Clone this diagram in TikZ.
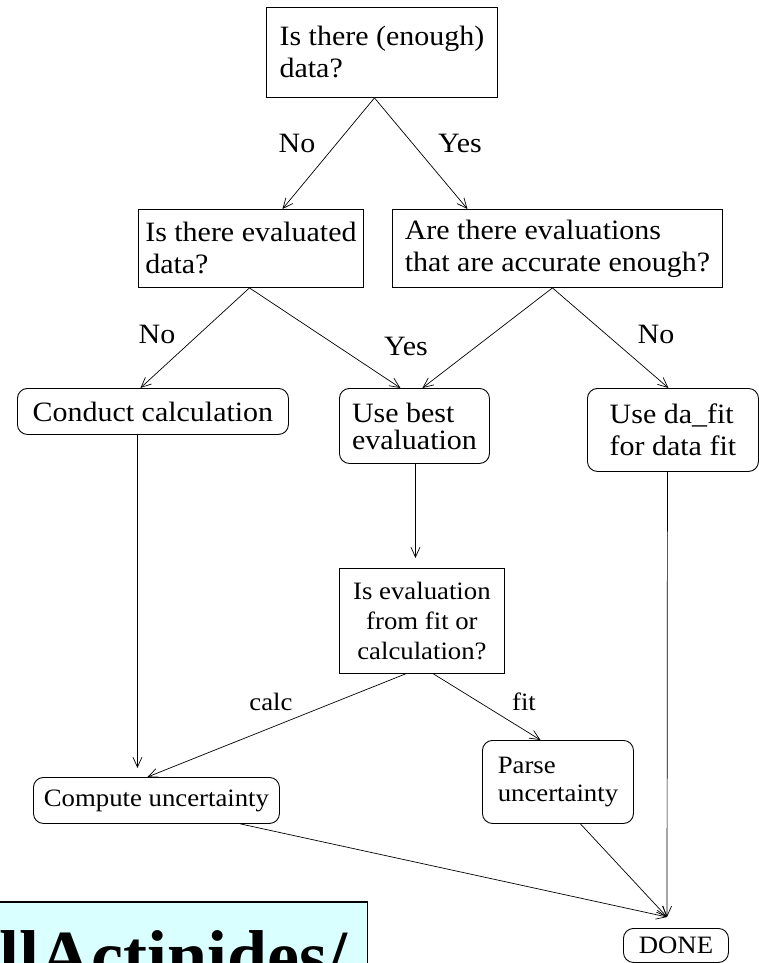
\documentclass[tikz,border=0pt]{standalone}
\usepackage{fontspec}
\setmainfont{Liberation Serif}[FakeStretch=1.07]
\newfontfamily\bannerfont{Liberation Serif}
\usetikzlibrary{arrows.meta}
\definecolor{bannercyan}{RGB}{217,255,255}

\begin{document}
\begin{tikzpicture}[x=1pt, y=-1pt,
    box/.style={rectangle, draw, line width=0.9pt, anchor=north west, align=left, inner sep=0pt, font=\fontsize{28}{32}\selectfont},
    rbox/.style={box, rounded corners=10pt},
    small/.style={font=\fontsize{25}{28}\selectfont},
    lbl/.style={anchor=base, inner sep=0pt, font=\fontsize{28}{32}\selectfont},
    arrow/.style={-{Straight Barb[length=10pt,width=9pt]}, line width=0.7pt}
  ]
  \useasboundingbox (0,0) rectangle (759,963);
  \clip (0,0) rectangle (759,963);

  % questions and actions
  \node[box, minimum width=231pt, minimum height=90pt] (enough) at (266,7) {Is there (enough)\\data?};
  \node[box, minimum width=225pt, minimum height=78pt] (evaluated) at (138,209) {Is there evaluated\\data?};
  \node[box, minimum width=330pt, minimum height=78pt] (accurate) at (392,209) {Are there evaluations\\that are accurate enough?};
  \node[rbox, minimum width=271pt, minimum height=46pt] (conduct) at (17,388) {Conduct calculation};
  \node[rbox, minimum width=150pt, minimum height=75pt, font=\fontsize{28}{27}\selectfont] (usebest) at (339,388) {Use best\\evaluation};
  \node[rbox, minimum width=171pt, minimum height=83pt] (dafit) at (587,388) {Use da\_fit\\for data fit};
  \node[box, align=center, minimum width=165pt, minimum height=105pt, font=\fontsize{25}{30}\selectfont] (fitorcalc) at (339,568) {Is evaluation\\from fit or\\calculation?};
  \node[rbox, small, minimum width=246pt, minimum height=46pt] (compute) at (33,777) {Compute uncertainty};
  \node[rbox, small, minimum width=151pt, minimum height=83pt] (parse) at (482,740) {Parse\\uncertainty};
  \node[rbox, small, minimum width=105pt, minimum height=34pt] (done) at (623,928) {DONE};
  \coordinate (donein) at (667,917);

  % connectors
  \draw[arrow] ([xshift=-7.5pt]enough.south) -- ([xshift=31.5pt]evaluated.north);
  \draw[arrow] ([xshift=-7.5pt]enough.south) -- ([xshift=-90pt]accurate.north);
  \draw[arrow] ([xshift=-1.5pt]evaluated.south) -- ([xshift=-12.5pt]conduct.north);
  \draw[arrow] ([xshift=-1.5pt]evaluated.south) -- ([xshift=-14pt]usebest.north);
  \draw[arrow] ([xshift=-5pt]accurate.south) -- ([xshift=8pt]usebest.north);
  \draw[arrow] ([xshift=-5pt]accurate.south) -- ([xshift=-4.5pt]dafit.north);
  \draw[arrow, shorten >=9pt] ([xshift=-15.5pt]conduct.south) -- ([xshift=-19pt]compute.north);
  \draw[arrow, shorten >=10pt] ([xshift=1pt]usebest.south) -- ([xshift=-6.5pt]fitorcalc.north);
  \draw[arrow] ([xshift=-16.5pt]fitorcalc.south) -- ([xshift=-9pt]compute.north);
  \draw[arrow] ([xshift=11.5pt]fitorcalc.south) -- ([xshift=-17.5pt]parse.north);
  \draw[arrow] ([xshift=-5.5pt]dafit.south) -- (donein);
  \draw[arrow] ([xshift=84pt]compute.south) -- (donein);
  \draw[arrow] ([xshift=22.5pt]parse.south) -- (donein);

  % labels
  \node[lbl] (no1) at (297,153) {No};
  \node[lbl] (yes1) at (460,153) {Yes};
  \node[lbl] (no2) at (157,343) {No};
  \node[lbl] (yes2) at (406,355) {Yes};
  \node[lbl] (no3) at (656,343) {No};
  \node[lbl, small] (calclbl) at (271,710) {calc};
  \node[lbl, small] (fitlbl) at (524,710) {fit};

  % banner
  \node[draw=black, line width=1.5pt, fill=bannercyan, anchor=north east, minimum width=380pt, minimum height=100pt] (banner) at (368,901) {};
  \node[anchor=base east, inner sep=0pt, font=\fontsize{72}{80}\bannerfont\bfseries\selectfont] (bannertext) at (348,980) {llActinides/};
\end{tikzpicture}
\end{document}
